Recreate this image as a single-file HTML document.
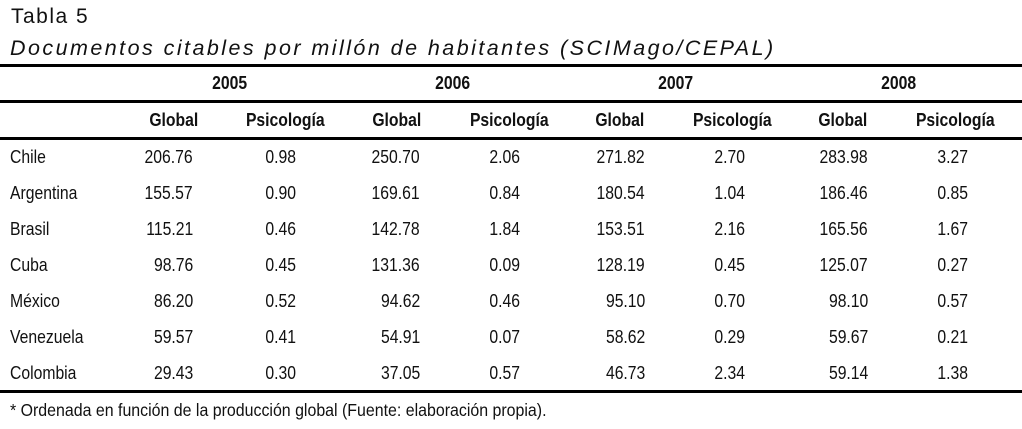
<!DOCTYPE html>
<html><head><meta charset="utf-8">
<style>
body{margin:0;background:#fff;}
#wrap{position:relative;width:1022px;height:429px;overflow:hidden;background:#fff;color:#111;font-family:"Liberation Sans",sans-serif;}
.t{position:absolute;white-space:nowrap;line-height:20px;font-size:18.5px;}
.t span{display:inline-block;transform:scaleX(0.85);}
.l span{transform-origin:left center;}
.r span{transform-origin:right center;}
.c span{transform-origin:center center;}
.rule{position:absolute;left:0;width:1022px;background:#000;height:3px;}
.hd{font-weight:bold;font-size:18.5px;}
</style></head>
<body>
<div id="wrap">
<div class="t" style="left:11px;top:5px;font-size:21px;letter-spacing:1.5px;line-height:24px;">Tabla 5</div>
<div class="t" style="left:10px;top:36px;font-size:21.5px;font-style:italic;letter-spacing:2.45px;line-height:24px;">Documentos citables por millón de habitantes (SCIMago/CEPAL)</div>
<div class="rule" style="top:64px"></div>
<div class="rule" style="top:100px"></div>
<div class="rule" style="top:137px"></div>
<div class="rule" style="top:390px"></div>
<div class="t l" style="left:10px;top:400px;font-size:17.5px;"><span style="transform:scaleX(0.91)">* Ordenada en función de la producción global (Fuente: elaboración propia).</span></div>
</div>
<script>
const years=["2005","2006","2007","2008"];
const subHeaders=["Global","Psicología"];
const countries=["Chile","Argentina","Brasil","Cuba","México","Venezuela","Colombia"];
const globalVals=[
["206.76","250.70","271.82","283.98"],
["155.57","169.61","180.54","186.46"],
["115.21","142.78","153.51","165.56"],
["98.76","131.36","128.19","125.07"],
["86.20","94.62","95.10","98.10"],
["59.57","54.91","58.62","59.67"],
["29.43","37.05","46.73","59.14"]];
const psicoVals=[
["0.98","2.06","2.70","3.27"],
["0.90","0.84","1.04","0.85"],
["0.46","1.84","2.16","1.67"],
["0.45","0.09","0.45","0.27"],
["0.52","0.46","0.70","0.57"],
["0.41","0.07","0.29","0.21"],
["0.30","0.57","2.34","1.38"]];
const W=document.getElementById('wrap');
function put(txt,x,y,align,cls){
  const d=document.createElement('div');
  d.className='t '+align+' '+(cls||'');
  const s=document.createElement('span');
  s.textContent=txt;
  d.appendChild(s);
  d.style.top=(y-10)+'px';
  if(align==='c'){d.style.left=(x-100)+'px';d.style.width='200px';d.style.textAlign='center';}
  else if(align==='r'){d.style.left=(x-200)+'px';d.style.width='200px';d.style.textAlign='right';}
  else d.style.left=x+'px';
  W.appendChild(d);return d;
}
const gRight=[193,420,645,868], pRight=[296,520,745,968];
const gCenter=[174,397,620,843], pCenter=[285,509,732,955];
years.forEach((y,i)=>{
  const d=put(y,(gCenter[i]+pCenter[i])/2,83,'c','hd');
  
  
  const a=put(subHeaders[0],gCenter[i],120,'c','hd');
  
  
  const b=put(subHeaders[1],pCenter[i],120,'c','hd');
  
  
});
countries.forEach((c,r)=>{
  const y=157+r*36;
  const l=put(c,10,y,'l');
  
  
  for(let i=0;i<4;i++){
    const g=put(globalVals[r][i],gRight[i],y,'r');
    
    
    const p=put(psicoVals[r][i],pRight[i],y,'r');
    
    
  }
});
</script>
</body></html>
